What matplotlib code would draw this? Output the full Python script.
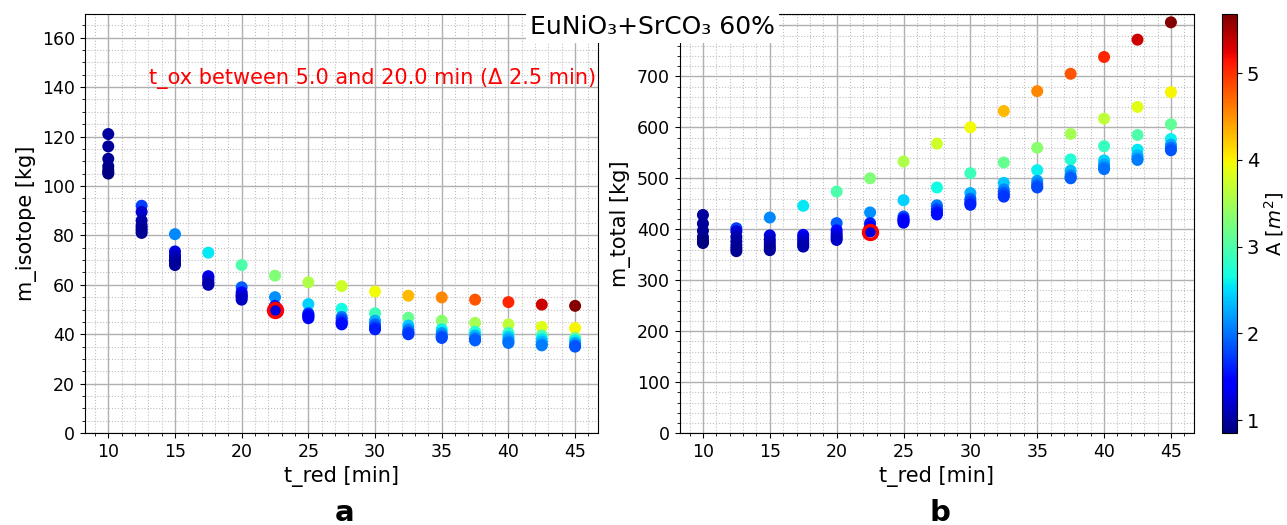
import matplotlib
matplotlib.use("Agg")
import matplotlib.pyplot as plt
import numpy as np
from matplotlib.ticker import MultipleLocator, FuncFormatter
from matplotlib.colors import Normalize

# t_red [min]; 7 points per t_red (t_ox = 5.0 ... 20.0 min)
t_red = [10, 12.5, 15, 17.5, 20, 22.5, 25, 27.5, 30, 32.5, 35, 37.5, 40, 42.5, 45]

m_isotope = [
    [121.0, 116.0, 111.0, 108.0, 106.5, 105.5, 105.0],
    [92.0, 89.5, 86.0, 84.0, 83.0, 82.0, 81.0],
    [80.5, 73.5, 72.0, 71.0, 70.0, 69.0, 68.0],
    [73.0, 63.5, 63.0, 62.0, 61.0, 60.5, 60.0],
    [68.0, 59.0, 57.0, 56.0, 55.5, 55.0, 54.0],
    [63.7, 55.0, 51.5, 50.8, 50.2, 49.9, 49.7],
    [61.0, 52.2, 48.5, 48.0, 47.5, 47.0, 46.5],
    [59.5, 50.3, 47.0, 46.0, 45.0, 44.5, 44.0],
    [57.3, 48.5, 45.5, 44.0, 43.0, 42.5, 42.0],
    [55.6, 46.7, 43.5, 42.0, 41.0, 40.5, 40.0],
    [54.9, 45.5, 42.0, 40.5, 39.5, 39.0, 38.5],
    [54.0, 44.6, 41.0, 39.5, 38.5, 38.0, 37.5],
    [53.0, 44.0, 40.5, 39.0, 38.0, 37.0, 36.5],
    [52.0, 43.0, 39.5, 38.0, 37.0, 36.0, 35.5],
    [51.5, 42.5, 38.5, 37.5, 36.5, 35.5, 35.0],
]

m_total = [
    [428, 411, 397, 385, 379, 375, 373],
    [402, 396, 385, 376, 368, 362, 357],
    [423, 388, 380, 374, 368, 363, 359],
    [446, 389, 384, 379, 374, 370, 366],
    [474, 412, 398, 392, 387, 383, 379],
    [500, 433, 412, 405, 400, 397, 395.5],
    [533, 457, 425, 421, 418, 416, 413],
    [568, 482, 447, 440, 435, 432, 429],
    [600, 510, 471, 460, 455, 451, 448],
    [632, 531, 491, 478, 472, 468, 464],
    [671, 560, 516, 495, 489, 485, 482],
    [705, 587, 537, 515, 506, 502, 500],
    [738, 617, 563, 535, 527, 522, 518],
    [772, 640, 585, 556, 545, 539, 536],
    [806, 669, 606, 577, 566, 560, 555],
]

area = [
    [1.00, 0.98, 0.95, 0.93, 0.90, 0.88, 0.86],
    [1.75, 1.20, 1.05, 1.00, 0.97, 0.95, 0.93],
    [2.10, 1.30, 1.15, 1.10, 1.05, 1.00, 0.98],
    [2.55, 1.45, 1.30, 1.20, 1.15, 1.10, 1.05],
    [3.00, 1.90, 1.50, 1.35, 1.25, 1.20, 1.15],
    [3.30, 2.15, 1.60, 1.45, 1.35, 1.30, 1.25],
    [3.55, 2.45, 1.85, 1.60, 1.50, 1.40, 1.35],
    [3.75, 2.65, 2.05, 1.80, 1.65, 1.55, 1.50],
    [3.95, 2.90, 2.30, 1.95, 1.80, 1.70, 1.60],
    [4.30, 3.15, 2.40, 2.10, 1.90, 1.80, 1.70],
    [4.55, 3.35, 2.60, 2.20, 2.05, 1.90, 1.80],
    [4.80, 3.50, 2.75, 2.35, 2.15, 2.00, 1.90],
    [5.05, 3.65, 2.85, 2.45, 2.25, 2.10, 2.00],
    [5.35, 3.85, 3.00, 2.55, 2.35, 2.20, 2.05],
    [5.65, 4.00, 3.10, 2.60, 2.25, 2.00, 1.85],
]

# highlighted point
best_row, best_col = 5, 6

n_ox = len(m_isotope[0])
x = np.repeat(t_red, n_ox)
iso = np.array(m_isotope).ravel()
tot = np.array(m_total).ravel()
a = np.array(area).ravel()

norm = Normalize(vmin=0.85, vmax=5.68)

fig = plt.figure(figsize=(12.87, 5.25), dpi=100)
ax1 = fig.add_axes([0.066, 0.175, 0.399, 0.798])
ax2 = fig.add_axes([0.528, 0.175, 0.400, 0.798])
cax = fig.add_axes([0.9495, 0.175, 0.0117, 0.798])

for ax, y, ylab, ymax, major, minor in [
    (ax1, iso, "m_isotope [kg]", 169.5, 20, 5),
    (ax2, tot, "m_total [kg]", 822, 100, 20),
]:
    sc = ax.scatter(x, y, c=a, cmap="jet", norm=norm, s=58, zorder=3)
    ax.set_ylim(0, ymax)
    ax.set_xlim(8.25, 46.75)
    ax.xaxis.set_major_locator(MultipleLocator(5))
    ax.xaxis.set_minor_locator(MultipleLocator(1))
    ax.yaxis.set_major_locator(MultipleLocator(major))
    ax.yaxis.set_minor_locator(MultipleLocator(minor))
    ax.grid(which="major", color="#b0b0b0", linewidth=1.0)
    ax.grid(which="minor", color="#c0c0c0", linestyle=":", linewidth=0.8)
    ax.set_axisbelow(True)
    ax.tick_params(labelsize=12.5)
    ax.set_xlabel("t_red [min]", fontsize=15)
    ax.set_ylabel(ylab, fontsize=15)

# the 800 label sits under the title box anyway
ax2.yaxis.set_major_formatter(FuncFormatter(lambda v, p: "" if v > 750 else f"{v:.0f}"))

ax1.plot(t_red[best_row], m_isotope[best_row][best_col], "o", mfc="none",
         mec="red", mew=2.5, ms=10, zorder=4)
ax2.plot(t_red[best_row], m_total[best_row][best_col], "o", mfc="none",
         mec="red", mew=2.5, ms=10, zorder=4)

ax1.text(0.995, 0.847, "t_ox between 5.0 and 20.0 min (Δ 2.5 min)",
         transform=ax1.transAxes, ha="right", va="center", color="red",
         fontsize=15)

cb = fig.colorbar(sc, cax=cax)
cb.set_label("A [$m^2$]", fontsize=14, labelpad=2)
cb.ax.tick_params(labelsize=14)

fig.text(0.507, 0.949, "EuNiO₃+SrCO₃ 60%", ha="center", va="center",
         fontsize=18, bbox=dict(facecolor="white", edgecolor="none", pad=3))

fig.text(0.268, 0.023, "a", ha="center", va="center", fontsize=21, fontweight="bold")
fig.text(0.730, 0.023, "b", ha="center", va="center", fontsize=21, fontweight="bold")

fig.savefig("out.png", dpi=100)
